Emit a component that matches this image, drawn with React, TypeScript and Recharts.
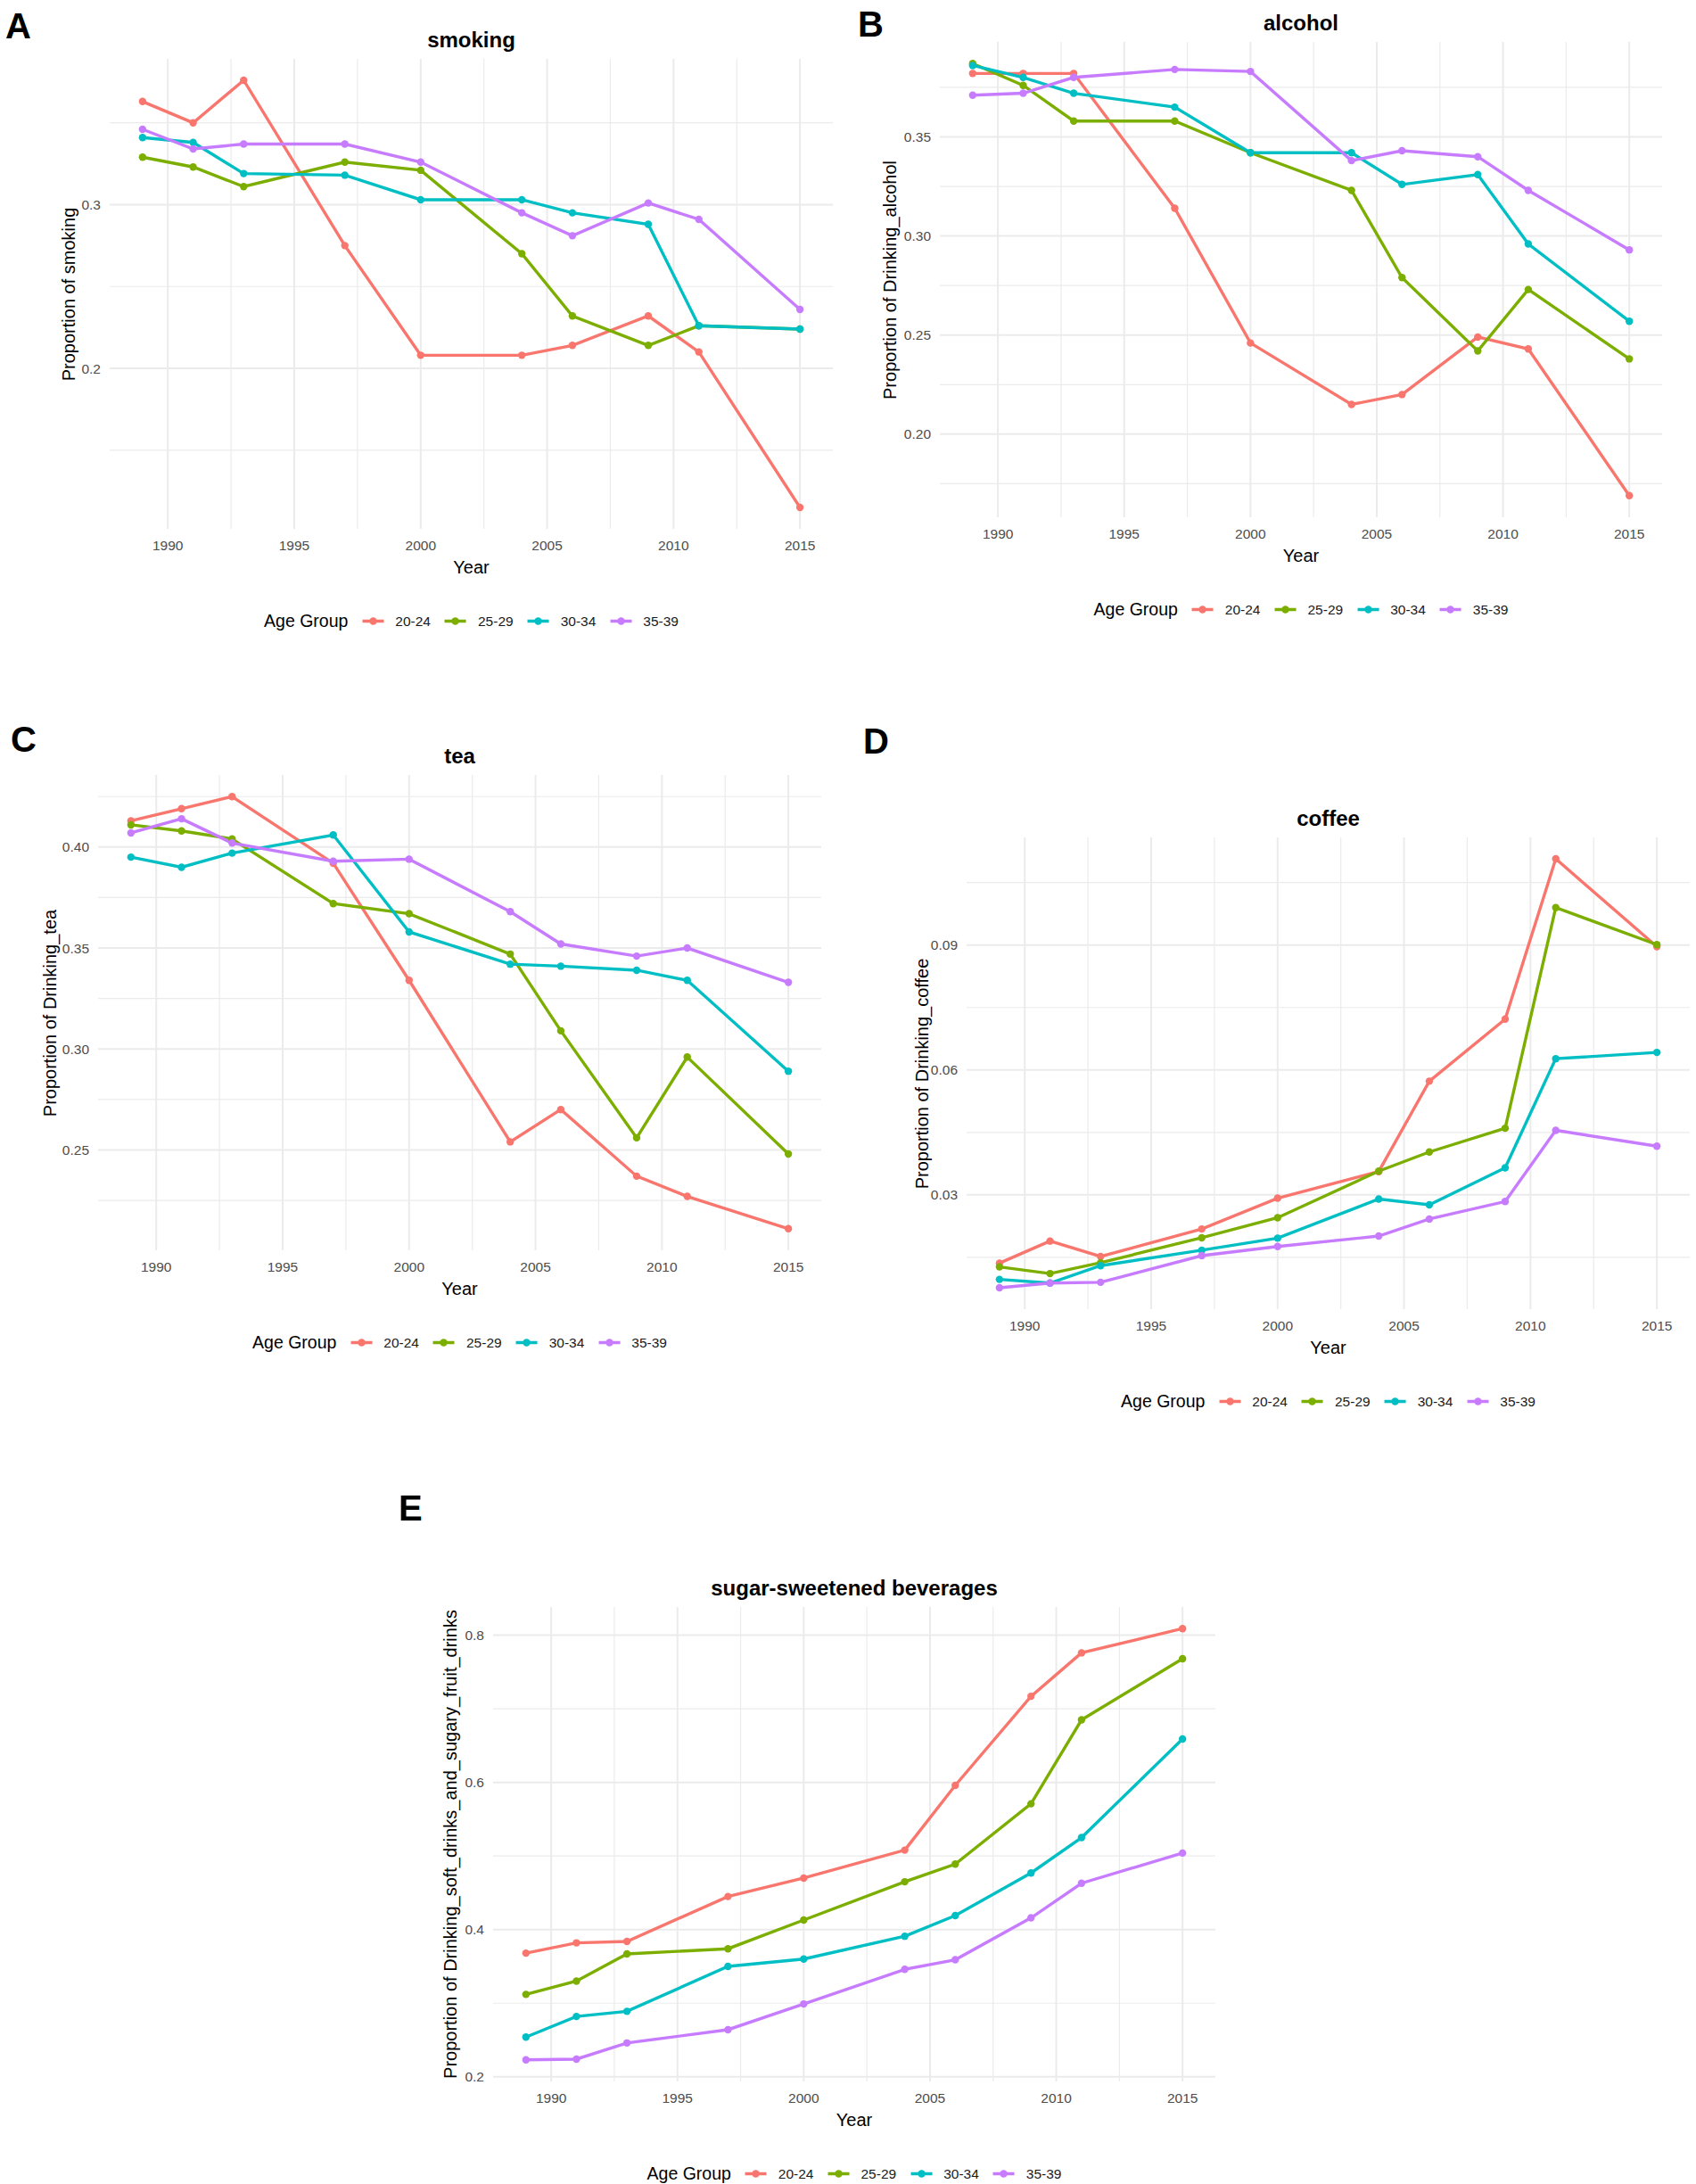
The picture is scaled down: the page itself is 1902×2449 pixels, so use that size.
import React from "react";
import { LineChart, Line, XAxis, YAxis, CartesianGrid } from "recharts";

// survey waves
const years = [1989, 1991, 1993, 1997, 2000, 2004, 2006, 2009, 2011, 2015];
const ageGroups = ["20-24", "25-29", "30-34", "35-39"];
const groupColors = ["#F8766D", "#7CAE00", "#00BFC4", "#C77CFF"];

const xMajor = [1990, 1995, 2000, 2005, 2010, 2015];
const xMinor = [1992.5, 1997.5, 2002.5, 2007.5, 2012.5];

// A - smoking
const smoking_20_24 = [0.363, 0.35, 0.376, 0.275, 0.208, 0.208, 0.214, 0.232, 0.21, 0.115];
const smoking_25_29 = [0.329, 0.323, 0.311, 0.326, 0.321, 0.27, 0.232, 0.214, 0.226, 0.224];
const smoking_30_34 = [0.341, 0.338, 0.319, 0.318, 0.303, 0.303, 0.295, 0.288, 0.226, 0.224];
const smoking_35_39 = [0.346, 0.334, 0.337, 0.337, 0.326, 0.295, 0.281, 0.301, 0.291, 0.236];
const smokingMajor = [0.2, 0.3];
const smokingMinor = [0.15, 0.25, 0.35];

// B - alcohol
const alcohol_20_24 = [0.382, 0.382, 0.382, 0.314, 0.246, 0.215, 0.22, 0.249, 0.243, 0.169];
const alcohol_25_29 = [0.387, 0.376, 0.358, 0.358, 0.342, 0.323, 0.279, 0.242, 0.273, 0.238];
const alcohol_30_34 = [0.386, 0.38, 0.372, 0.365, 0.342, 0.342, 0.326, 0.331, 0.296, 0.257];
const alcohol_35_39 = [0.371, 0.372, 0.38, 0.384, 0.383, 0.338, 0.343, 0.34, 0.323, 0.293];
const alcoholMajor = [0.2, 0.25, 0.3, 0.35];
const alcoholMinor = [0.175, 0.225, 0.275, 0.325, 0.375];

// C - tea
const tea_20_24 = [0.413, 0.419, 0.425, 0.392, 0.334, 0.254, 0.27, 0.237, 0.227, 0.211];
const tea_25_29 = [0.411, 0.408, 0.404, 0.372, 0.367, 0.347, 0.309, 0.256, 0.296, 0.248];
const tea_30_34 = [0.395, 0.39, 0.397, 0.406, 0.358, 0.342, 0.341, 0.339, 0.334, 0.289];
const tea_35_39 = [0.407, 0.414, 0.402, 0.393, 0.394, 0.368, 0.352, 0.346, 0.35, 0.333];
const teaMajor = [0.25, 0.3, 0.35, 0.4];
const teaMinor = [0.225, 0.275, 0.325, 0.375, 0.425];

// D - coffee
const coffee_20_24 = [0.0136, 0.0189, 0.0152, 0.0218, 0.0292, 0.0356, 0.0573, 0.0722, 0.1107, 0.0896];
const coffee_25_29 = [0.0127, 0.0111, 0.0137, 0.0197, 0.0245, 0.0357, 0.0403, 0.046, 0.099, 0.0901];
const coffee_30_34 = [0.0097, 0.0088, 0.013, 0.0167, 0.0196, 0.029, 0.0276, 0.0365, 0.0627, 0.0642];
const coffee_35_39 = [0.0077, 0.0088, 0.009, 0.0154, 0.0176, 0.0201, 0.0242, 0.0284, 0.0455, 0.0417];
const coffeeMajor = [0.03, 0.06, 0.09];
const coffeeMinor = [0.015, 0.045, 0.075, 0.105];

// E - sugar-sweetened beverages
const ssb_20_24 = [0.368, 0.382, 0.384, 0.445, 0.47, 0.508, 0.596, 0.717, 0.776, 0.809];
const ssb_25_29 = [0.312, 0.33, 0.367, 0.374, 0.413, 0.465, 0.489, 0.571, 0.685, 0.768];
const ssb_30_34 = [0.254, 0.282, 0.289, 0.35, 0.36, 0.391, 0.419, 0.477, 0.525, 0.659];
const ssb_35_39 = [0.223, 0.224, 0.246, 0.264, 0.299, 0.346, 0.359, 0.416, 0.463, 0.504];
const ssbMajor = [0.2, 0.4, 0.6, 0.8];
const ssbMinor = [0.3, 0.5, 0.7];

const FONT = "'Liberation Sans', Arial, sans-serif";
const GRID = "#EBEBEB";
const TICK = "#4D4D4D";
const AXIS_W = 80;
const AXIS_H = 40;
const LINE_W = 3.4;
const DOT_R = 4.2;

type Box = { left: number; top: number; right: number; bottom: number };

interface PanelProps {
  letter: string;
  letterX: number;
  letterTop: number;
  title: string;
  yTitle: string;
  yTitleX: number;
  series: number[][];
  yMajor: number[];
  yMinor: number[];
  digits: number;
  box: Box;
}

// ggplot-style 5% expansion of the data range
function expand(values: number[]): [number, number] {
  const lo = Math.min(...values);
  const hi = Math.max(...values);
  const pad = (hi - lo) * 0.05;
  return [lo - pad, hi + pad];
}

function LegendKey({ color }: { color: string }) {
  return (
    <svg width={26} height={16} style={{ display: "block" }}>
      <line x1={1} y1={8} x2={25} y2={8} stroke={color} strokeWidth={LINE_W} />
      <circle cx={13} cy={8} r={DOT_R} fill={color} />
    </svg>
  );
}

function Panel(props: PanelProps) {
  const { box, series } = props;
  const w = box.right - box.left;
  const h = box.bottom - box.top;
  const cx = (box.left + box.right) / 2;
  const cy = (box.top + box.bottom) / 2;

  const rows = years.map((year, i) => {
    const row: Record<string, number> = { year };
    series.forEach((s, k) => (row["g" + k] = s[i]));
    return row;
  });
  const yDomain = expand(series.flat());
  const xDomain = expand(years);

  const tickStyle = { fontSize: 15.5, fill: TICK, fontFamily: FONT };

  return (
    <>
      <div
        style={{
          position: "absolute",
          left: props.letterX,
          top: props.letterTop - 0.13 * 40,
          fontSize: 40,
          lineHeight: 1,
          fontWeight: 700,
        }}
      >
        {props.letter}
      </div>
      <div
        style={{
          position: "absolute",
          left: cx,
          top: box.top - 21,
          transform: "translate(-50%, -50%)",
          fontSize: 24,
          fontWeight: 700,
          whiteSpace: "nowrap",
        }}
      >
        {props.title}
      </div>
      <div
        style={{
          position: "absolute",
          left: props.yTitleX,
          top: cy,
          transform: "translate(-50%, -50%) rotate(-90deg)",
          fontSize: 20,
          whiteSpace: "nowrap",
        }}
      >
        {props.yTitle}
      </div>
      <div
        style={{
          position: "absolute",
          left: cx,
          top: box.bottom + 43,
          transform: "translate(-50%, -50%)",
          fontSize: 20,
        }}
      >
        Year
      </div>
      <div
        style={{
          position: "absolute",
          left: cx,
          top: box.bottom + 103,
          transform: "translate(-50%, -50%)",
          display: "flex",
          alignItems: "center",
          whiteSpace: "nowrap",
        }}
      >
        <span style={{ fontSize: 19.5 }}>Age Group</span>
        {ageGroups.map((g, k) => (
          <div key={g} style={{ display: "flex", alignItems: "center", marginLeft: 15 }}>
            <LegendKey color={groupColors[k]} />
            <span style={{ fontSize: 15.5, marginLeft: 12, color: "#1a1a1a" }}>{g}</span>
          </div>
        ))}
      </div>
      <div style={{ position: "absolute", left: box.left - AXIS_W, top: box.top }}>
        <LineChart
          width={w + AXIS_W}
          height={h + AXIS_H}
          data={rows}
          margin={{ top: 0, right: 0, bottom: 0, left: 0 }}
        >
          <CartesianGrid
            horizontalValues={props.yMinor}
            verticalValues={xMinor}
            stroke={GRID}
            strokeWidth={1.2}
          />
          <CartesianGrid
            horizontalValues={props.yMajor}
            verticalValues={xMajor}
            stroke={GRID}
            strokeWidth={2}
          />
          <XAxis
            type="number"
            dataKey="year"
            domain={xDomain}
            ticks={xMajor}
            interval={0}
            axisLine={false}
            tickLine={false}
            tickSize={0}
            tickMargin={13}
            height={AXIS_H}
            tick={tickStyle}
          />
          <YAxis
            type="number"
            domain={yDomain}
            ticks={props.yMajor}
            interval={0}
            axisLine={false}
            tickLine={false}
            tickSize={0}
            tickMargin={10}
            width={AXIS_W}
            tick={tickStyle}
            tickFormatter={(v: number) => v.toFixed(props.digits)}
          />
          {ageGroups.map((g, k) => (
            <Line
              key={g}
              type="linear"
              dataKey={"g" + k}
              name={g}
              stroke={groupColors[k]}
              strokeWidth={LINE_W}
              dot={{ r: DOT_R, fill: groupColors[k], stroke: groupColors[k], strokeWidth: 0 }}
              activeDot={false}
              isAnimationActive={false}
            />
          ))}
        </LineChart>
      </div>
    </>
  );
}

export default function App() {
  return (
    <div
      style={{
        position: "absolute",
        left: 0,
        top: 0,
        width: 1902,
        height: 2449,
        background: "#fff",
        fontFamily: FONT,
        color: "#000",
      }}
    >
      <Panel
        letter="A"
        letterX={6}
        letterTop={14}
        title="smoking"
        yTitle="Proportion of smoking"
        yTitleX={77}
        series={[smoking_20_24, smoking_25_29, smoking_30_34, smoking_35_39]}
        yMajor={smokingMajor}
        yMinor={smokingMinor}
        digits={1}
        box={{ left: 123, top: 66, right: 934, bottom: 593 }}
      />
      <Panel
        letter="B"
        letterX={962}
        letterTop={12}
        title="alcohol"
        yTitle="Proportion of Drinking_alcohol"
        yTitleX={998}
        series={[alcohol_20_24, alcohol_25_29, alcohol_30_34, alcohol_35_39]}
        yMajor={alcoholMajor}
        yMinor={alcoholMinor}
        digits={2}
        box={{ left: 1054, top: 47, right: 1864, bottom: 580 }}
      />
      <Panel
        letter="C"
        letterX={12}
        letterTop={814}
        title="tea"
        yTitle="Proportion of Drinking_tea"
        yTitleX={56}
        series={[tea_20_24, tea_25_29, tea_30_34, tea_35_39]}
        yMajor={teaMajor}
        yMinor={teaMinor}
        digits={2}
        box={{ left: 110, top: 869, right: 921, bottom: 1402 }}
      />
      <Panel
        letter="D"
        letterX={968}
        letterTop={816}
        title="coffee"
        yTitle="Proportion of Drinking_coffee"
        yTitleX={1034}
        series={[coffee_20_24, coffee_25_29, coffee_30_34, coffee_35_39]}
        yMajor={coffeeMajor}
        yMinor={coffeeMinor}
        digits={2}
        box={{ left: 1084, top: 939, right: 1895, bottom: 1468 }}
      />
      <Panel
        letter="E"
        letterX={447}
        letterTop={1676}
        title="sugar-sweetened beverages"
        yTitle="Proportion of Drinking_soft_drinks_and_sugary_fruit_drinks"
        yTitleX={505}
        series={[ssb_20_24, ssb_25_29, ssb_30_34, ssb_35_39]}
        yMajor={ssbMajor}
        yMinor={ssbMinor}
        digits={1}
        box={{ left: 553, top: 1802, right: 1363, bottom: 2334 }}
      />
    </div>
  );
}
